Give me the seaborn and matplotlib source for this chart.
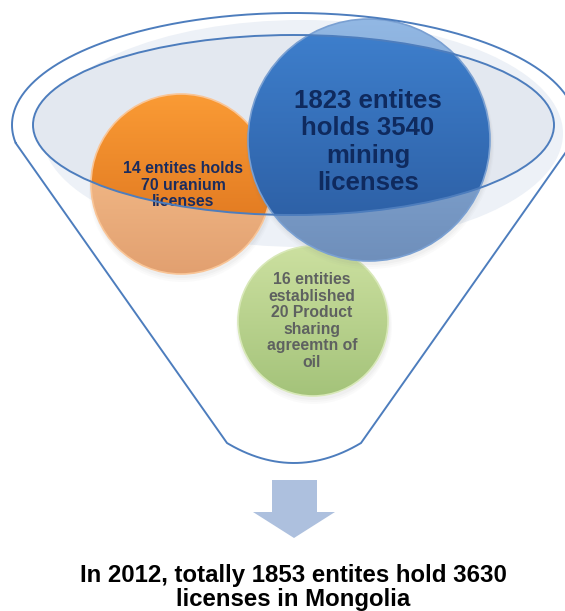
import numpy as np
import matplotlib
matplotlib.use("Agg")
import matplotlib.pyplot as plt
import seaborn as sns
from matplotlib.patches import Circle, Ellipse, Polygon
from matplotlib.colors import to_rgb

# data shown in the diagram
groups = ["mining", "uranium", "oil"]
entities = [1823, 14, 16]
licenses = [3540, 70, 20]
year = 2012
total_entities = 1853
total_licenses = 3630

labels = [
    [f"{entities[0]} entites", f"holds {licenses[0]}", "mining", "licenses"],
    [f"{entities[1]} entites holds", f"{licenses[1]} uranium", "licenses"],
    [f"{entities[2]} entities", "established", f"{licenses[2]} Product",
     "sharing", "agreemtn of", "oil"],
]
summary = [f"In {year}, totally {total_entities} entites hold {total_licenses}",
           "licenses in Mongolia"]

# layout (pixel units, y down)
W, H = 565, 611
RIM = (293.5, 125.0, 260.5, 90.0)          # cx, cy, a, b of the funnel mouth
OUTER = (294.0, 125.0, 282.0, 112.0)
LINE_COL = "#4d7dbd"

# circle styles: centre, radius, inside-rim gradient, outside-rim gradient, edge
circles = {
    "oil": dict(c=(313, 321), r=75, cin=("#cce0a0", "#a4c37a"),
                cout=("#cce0a0", "#a4c37a"), edge="#d8e8b8"),
    "uranium": dict(c=(181, 184), r=90, cin=("#fa9b35", "#d96e1a"),
                    cout=("#fbc794", "#e2a070"), edge="#f9c597"),
    "mining": dict(c=(369, 140), r=121, cin=("#3f81cf", "#2a5a9e"),
                   cout=("#92b8e4", "#6f8fbb"), edge="#7aa0d2"),
}
text_pos = {
    "mining": dict(x=368, base=108, step=27.3, size=18.5, color="#0f2a5e"),
    "uranium": dict(x=183, base=173, step=16.5, size=11.4, color="#1b2c5e"),
    "oil": dict(x=312, base=284, step=16.6, size=11.3, color="#5e6160"),
}


def in_rim(x, y):
    cx, cy, a, b = RIM
    return ((x - cx) / a) ** 2 + ((y - cy) / b) ** 2 <= 1.0


def lerp(c0, c1, t):
    c0 = np.array(to_rgb(c0))
    c1 = np.array(to_rgb(c1))
    return c0 + (c1 - c0) * t


def draw_disc(ax, st, z):
    cx, cy = st["c"]
    r = st["r"]
    xs = np.arange(cx - r, cx + r, 0.5) + 0.25
    ys = np.arange(cy - r, cy + r, 0.5) + 0.25
    X, Y = np.meshgrid(xs, ys)
    t = ((Y - (cy - r)) / (2 * r))[..., None]
    inside = lerp(*st["cin"], t)
    outside = lerp(*st["cout"], t)
    img = np.where(in_rim(X, Y)[..., None], inside, outside)
    # soft shadow
    for k, al in enumerate([0.05, 0.04, 0.03]):
        ax.add_patch(Circle((cx + 1, cy + 3 + k), r + 1 + k, fc="#7f7f7f",
                            ec="none", alpha=al, zorder=z - 0.2))
    im = ax.imshow(img, extent=(cx - r, cx + r, cy + r, cy - r), origin="upper",
                   interpolation="bilinear", zorder=z)
    im.set_clip_path(Circle((cx, cy), r, transform=ax.transData))
    ax.add_patch(Circle((cx, cy), r, fill=False, ec=st["edge"], lw=1.2, zorder=z + 0.1))


def put_lines(ax, lines, p):
    for i, s in enumerate(lines):
        ax.text(p["x"], p["base"] + i * p["step"], s, ha="center", va="baseline",
                fontsize=p["size"], fontweight="bold", color=p["color"], zorder=5)


sns.set_theme(style="white")
plt.rcParams["font.family"] = ["Liberation Sans", "DejaVu Sans"]

fig = plt.figure(figsize=(W / 100, H / 100), dpi=100)
ax = fig.add_axes([0, 0, 1, 1])

# glow behind the funnel mouth and the mouth itself
ax.add_patch(Ellipse((302.5, 133.5), 521, 227, fc="#edf1f7", ec="none", zorder=1))
ax.add_patch(Ellipse(RIM[:2], 2 * RIM[2], 2 * RIM[3], fc="#e3e8f0", ec="none", zorder=1.2))

for z, g in zip([2, 3, 4], ["oil", "uranium", "mining"]):
    draw_disc(ax, circles[g], z)

for g, lines in zip(groups, labels):
    put_lines(ax, lines, text_pos[g])

# rim stroke
ax.add_patch(Ellipse(RIM[:2], 2 * RIM[2], 2 * RIM[3], fill=False, ec=LINE_COL,
                     lw=1.4, zorder=6))

# funnel outline: top arc, two sides, bottom curve
cx, cy, a, b = OUTER
th0 = np.arcsin(18 / b)
tt = np.linspace(np.pi + th0, -th0, 300)
arc_x = cx + a * np.cos(tt)
arc_y = cy - b * np.sin(tt)
bl, br = (227.0, 443.0), (361.0, 443.0)
s = np.linspace(0, 1, 60)
ctrl = (294.0, 483.0)
bot_x = (1 - s) ** 2 * br[0] + 2 * (1 - s) * s * ctrl[0] + s ** 2 * bl[0]
bot_y = (1 - s) ** 2 * br[1] + 2 * (1 - s) * s * ctrl[1] + s ** 2 * bl[1]
fx = np.concatenate([arc_x, bot_x, arc_x[:1]])
fy = np.concatenate([arc_y, bot_y, arc_y[:1]])
ax.plot(fx, fy, color=LINE_COL, lw=1.4, zorder=6, solid_joinstyle="round")

# arrow
ax.add_patch(Polygon([(272, 480), (317, 480), (317, 512), (335, 512), (294, 538),
                      (253, 512), (272, 512)], closed=True, fc="#adc0de", ec="none", zorder=3))

for i, s_ in enumerate(summary):
    ax.text(293.5, 582 + i * 24, s_, ha="center", va="baseline", fontsize=17.3,
            fontweight="bold", color="black", zorder=5)

ax.set_xlim(0, W)
ax.set_ylim(H, 0)
ax.axis("off")
fig.savefig("out.png", dpi=100)
